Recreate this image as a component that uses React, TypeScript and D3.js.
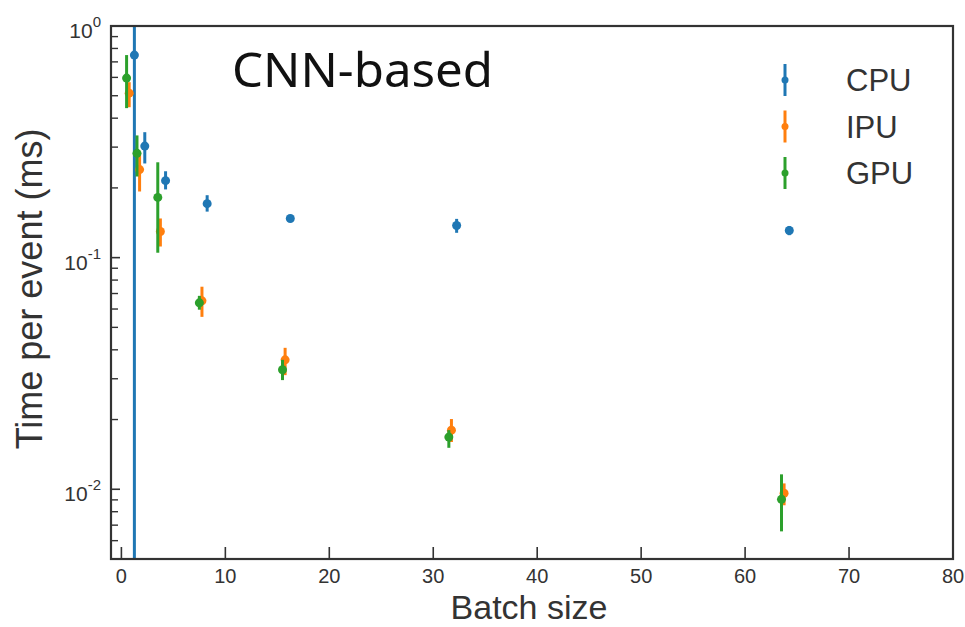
import React from "react";
import * as d3 from "d3";

// batch sizes and timings (ms per event)
const batchSizes = [1, 2, 4, 8, 16, 32, 64];

const cpuTime = [0.749, 0.303, 0.215, 0.171, 0.1476, 0.1376, 0.131];
const cpuLow = [0.001, 0.255, 0.197, 0.158, 0.144, 0.128, 0.125];
const cpuHigh = [10, 0.348, 0.236, 0.186, 0.151, 0.147, 0.137];

const ipuTime = [0.513, 0.24, 0.1297, 0.0651, 0.0362, 0.018, 0.00961];
const ipuLow = [0.446, 0.193, 0.1117, 0.0555, 0.0311, 0.016, 0.00853];
const ipuHigh = [0.572, 0.285, 0.1476, 0.0749, 0.0408, 0.0201, 0.0106];

const gpuTime = [0.596, 0.282, 0.182, 0.0638, 0.0328, 0.0168, 0.00905];
const gpuLow = [0.442, 0.224, 0.105, 0.0596, 0.0296, 0.0151, 0.00658];
const gpuHigh = [0.749, 0.337, 0.258, 0.0684, 0.0362, 0.018, 0.0116];

const xTicks = [0, 10, 20, 30, 40, 50, 60, 70, 80];
const yMajor = [1, 0.1, 0.01];
const yMajorExp = ["0", "-1", "-2"];

const series = [
  { name: "CPU", color: "#1f77b4", shift: 0.25, y: cpuTime, lo: cpuLow, hi: cpuHigh },
  { name: "IPU", color: "#ff7f0e", shift: -0.25, y: ipuTime, lo: ipuLow, hi: ipuHigh },
  { name: "GPU", color: "#2ca02c", shift: -0.5, y: gpuTime, lo: gpuLow, hi: gpuHigh },
];

const W = 965, H = 627;
const left = 111, right = 953, top = 26, bottom = 559;
const axisColor = "#333";
const sans = "'Liberation Sans', Arial, sans-serif";

export default function App() {
  const x = d3.scaleLinear().domain([-1, 80]).range([left, right]);
  const y = d3.scaleLog().domain([0.005, 1]).range([bottom, top]);

  // minor ticks 2..9 per decade
  const yMinor: number[] = [];
  [0.001, 0.01, 0.1].forEach((d) => {
    for (let k = 2; k <= 9; k++) {
      const v = d * k;
      if (v >= 0.005 && v <= 1) yMinor.push(v);
    }
  });

  return (
    <svg width={W} height={H} style={{ position: "absolute", left: 0, top: 0, background: "#fff" }}>
      <defs>
        <clipPath id="plotArea">
          <rect x={left} y={top} width={right - left} height={bottom - top} />
        </clipPath>
      </defs>

      {/* data */}
      <g clipPath="url(#plotArea)">
        {series.map((s) => (
          <g key={s.name}>
            {batchSizes.map((b, i) => (
              <g key={b}>
                <line
                  x1={x(b + s.shift)}
                  x2={x(b + s.shift)}
                  y1={y(Math.max(s.lo[i], 1e-4))}
                  y2={y(s.hi[i])}
                  stroke={s.color}
                  strokeWidth={3}
                />
                <circle cx={x(b + s.shift)} cy={y(s.y[i])} r={4.5} fill={s.color} />
              </g>
            ))}
          </g>
        ))}
      </g>

      {/* frame */}
      <rect x={left} y={top} width={right - left} height={bottom - top} fill="none" stroke={axisColor} strokeWidth={2.2} />

      {/* x ticks */}
      {xTicks.map((t) => (
        <g key={t}>
          <line x1={x(t)} x2={x(t)} y1={bottom} y2={bottom - 12} stroke={axisColor} strokeWidth={1.6} />
          <text x={x(t)} y={bottom + 24} textAnchor="middle" fontFamily={sans} fontSize={20} fill={axisColor}>
            {t}
          </text>
        </g>
      ))}

      {/* y ticks */}
      {yMinor.map((v) => (
        <line key={v} x1={left} x2={left + 7} y1={y(v)} y2={y(v)} stroke={axisColor} strokeWidth={1.4} />
      ))}
      {yMajor.map((v, i) => (
        <g key={v}>
          <line x1={left} x2={left + 9} y1={y(v)} y2={y(v)} stroke={axisColor} strokeWidth={1.6} />
          <text x={101} y={y(v) + 12} textAnchor="end" fontFamily={sans} fontSize={21} fill={axisColor}>
            10
            <tspan dy={-11} fontSize={15}>
              {yMajorExp[i]}
            </tspan>
          </text>
        </g>
      ))}

      {/* axis labels */}
      <text x={529} y={619} textAnchor="middle" fontFamily={sans} fontSize={34} fill={axisColor}>
        Batch size
      </text>
      <text
        transform={`translate(42,289) rotate(-90)`}
        textAnchor="middle"
        fontFamily={sans}
        fontSize={36}
        fill={axisColor}
      >
        Time per event (ms)
      </text>

      {/* title inside plot */}
      <text x={232} y={87} fontFamily="'Noto Sans', 'Open Sans', sans-serif" fontSize={48} fill="#111" textLength={261} lengthAdjust="spacingAndGlyphs">
        CNN-based
      </text>

      {/* legend */}
      {series.map((s, i) => {
        const cy = 80 + i * 46.5;
        return (
          <g key={s.name}>
            <line x1={785} x2={785} y1={cy - 16} y2={cy + 16} stroke={s.color} strokeWidth={3} />
            <circle cx={785} cy={cy} r={3.5} fill={s.color} />
            <text x={846} y={cy + 11} fontFamily={sans} fontSize={31} fill={axisColor}>
              {s.name}
            </text>
          </g>
        );
      })}
    </svg>
  );
}
